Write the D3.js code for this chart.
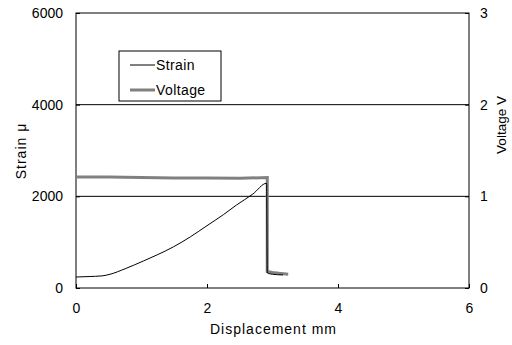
<!DOCTYPE html>
<html>
<head>
<meta charset="utf-8">
<script src="https://cdn.jsdelivr.net/npm/d3@7"></script>
<style>
  body { margin: 0; background: #fff; }
  text { font-family: "Liberation Sans", Arial, sans-serif; }
</style>
</head>
<body>
<div id="chart"></div>
<script>
// displacement (mm) vs strain
const strainX = [0, 0.2, 0.4, 0.52, 0.75, 1.03, 1.25, 1.49, 1.75, 2.0, 2.25, 2.45, 2.7, 2.91, 2.92, 3.0, 3.16];
const strainY = [240, 250, 265, 300, 420, 590, 730, 900, 1120, 1360, 1600, 1810, 2050, 2285, 330, 300, 285];
// displacement (mm) vs voltage
const voltX = [0, 0.5, 1.0, 1.5, 2.0, 2.5, 2.92, 2.92, 3.0, 3.1, 3.24];
const voltY = [1.21, 1.21, 1.205, 1.2, 1.2, 1.197, 1.205, 0.18, 0.17, 0.16, 0.15];

const xTicks = [0, 2, 4, 6];
const leftTicks = [0, 2000, 4000, 6000];
const rightTicks = [0, 1, 2, 3];

const W = 512, H = 345;
const margin = { top: 13, right: 43, bottom: 57, left: 76 };
const width = W - margin.left - margin.right;
const height = H - margin.top - margin.bottom;

const svg = d3.select("#chart").append("svg")
  .attr("width", W).attr("height", H)
  .append("g")
  .attr("transform", "translate(" + margin.left + "," + margin.top + ")");

const x = d3.scaleLinear().domain([0, 6]).range([0, width]);
const yL = d3.scaleLinear().domain([0, 6000]).range([height, 0]);
const yR = d3.scaleLinear().domain([0, 3]).range([height, 0]);

// gridlines
svg.selectAll("line.grid")
  .data(leftTicks.filter(d => d > 0 && d < 6000))
  .enter().append("line")
  .attr("x1", 0).attr("x2", width)
  .attr("y1", d => yL(d)).attr("y2", d => yL(d))
  .attr("stroke", "#000").attr("stroke-width", 1);

// frame
svg.append("rect")
  .attr("width", width).attr("height", height)
  .attr("fill", "none").attr("stroke", "#000").attr("stroke-width", 1);

function styleAxis(g) {
  g.select(".domain").remove();
  g.selectAll("text").style("font-size", "14px").attr("fill", "#000");
  g.selectAll("line").attr("stroke", "#000");
}

svg.append("g")
  .attr("transform", "translate(0," + height + ")")
  .call(d3.axisBottom(x).tickValues(xTicks).tickSize(-4).tickPadding(15).tickFormat(d3.format("d")))
  .call(styleAxis);

svg.append("g")
  .call(d3.axisLeft(yL).tickValues(leftTicks).tickSize(-4).tickPadding(13).tickFormat(d3.format("d")))
  .call(styleAxis);

svg.append("g")
  .attr("transform", "translate(" + width + ",0)")
  .call(d3.axisRight(yR).tickValues(rightTicks).tickSize(-4).tickPadding(11).tickFormat(d3.format("d")))
  .call(styleAxis);

// voltage line
const voltData = voltX.map((d, i) => [d, voltY[i]]);
svg.append("path")
  .datum(voltData)
  .attr("fill", "none")
  .attr("stroke", "#808080")
  .attr("stroke-width", 3)
  .attr("d", d3.line().x(d => x(d[0])).y(d => yR(d[1])));

// strain line
const strainData = strainX.map((d, i) => [d, strainY[i]]);
svg.append("path")
  .datum(strainData)
  .attr("fill", "none")
  .attr("stroke", "#000")
  .attr("stroke-width", 1)
  .attr("d", d3.line().curve(d3.curveMonotoneX).x(d => x(d[0])).y(d => yL(d[1])));

// axis titles
svg.append("text")
  .attr("x", width / 2 + 1).attr("y", height + 46)
  .attr("text-anchor", "middle").style("font-size", "14px")
  .style("letter-spacing", "1px")
  .text("Displacement mm");

svg.append("text")
  .attr("transform", "translate(" + (21 - margin.left) + "," + (151 - margin.top) + ") rotate(-90)")
  .attr("text-anchor", "middle").attr("dy", "0.35em").style("font-size", "14px")
  .style("letter-spacing", "1px")
  .text("Strain  μ");

svg.append("text")
  .attr("transform", "translate(" + (501 - margin.left) + "," + (125 - margin.top) + ") rotate(-90)")
  .attr("text-anchor", "middle").attr("dy", "0.35em").style("font-size", "13.5px")
  .text("Voltage V");

// legend
const legend = svg.append("g")
  .attr("transform", "translate(" + (119 - margin.left) + "," + (51 - margin.top) + ")");
legend.append("rect")
  .attr("width", 102).attr("height", 50)
  .attr("fill", "#fff").attr("stroke", "#000").attr("stroke-width", 1);
const legendItems = [
  { name: "Strain", color: "#000", w: 1, y: 14 },
  { name: "Voltage", color: "#808080", w: 3, y: 39 }
];
legendItems.forEach(it => {
  legend.append("line")
    .attr("x1", 11).attr("x2", 36)
    .attr("y1", it.y).attr("y2", it.y)
    .attr("stroke", it.color).attr("stroke-width", it.w);
  legend.append("text")
    .attr("x", 37).attr("y", it.y).attr("dy", "0.35em")
    .style("font-size", "14px").style("letter-spacing", "0.4px")
    .text(it.name);
});
</script>
</body>
</html>
